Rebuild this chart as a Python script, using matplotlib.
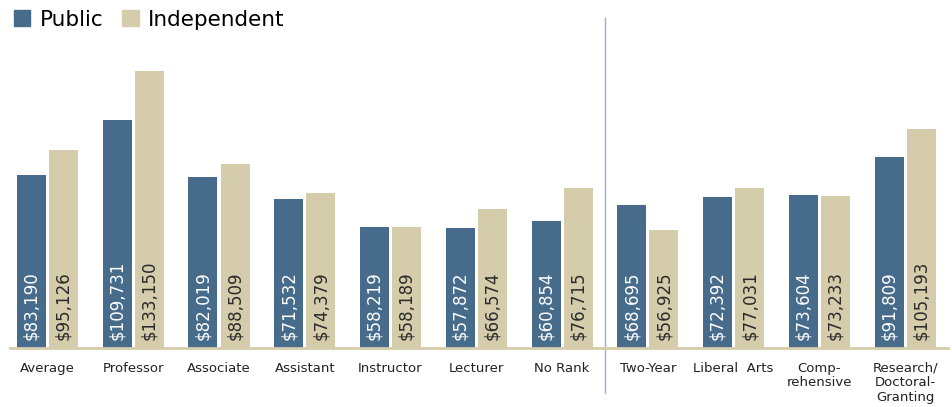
import matplotlib.pyplot as plt
import numpy as np

# Data
categories = ['Average', 'Professor', 'Associate', 'Assistant', 'Instructor', 'Lecturer',
              'No Rank', 'Two-Year', 'Liberal  Arts', 'Comp-\nrehensive',
              'Research/\nDoctoral-\nGranting']
public = [83190, 109731, 82019, 71532, 58219, 57872, 60854, 68695, 72392, 73604, 91809]
independent = [95126, 133150, 88509, 74379, 58189, 66574, 76715, 56925, 77031, 73233, 105193]

c_pub = '#466b8b'
c_ind = '#d5ccab'
font = ['DejaVu Sans']

fig = plt.figure(figsize=(9.53, 4.07), dpi=100)
ax = fig.add_axes([10 / 953, 59 / 407, 938 / 953, 330 / 407])

x = np.arange(len(categories))
w = 0.338
off = 0.187
ax.bar(x - off, public, w, color=c_pub)
ax.bar(x + off, independent, w, color=c_ind)

# values inside bars
for i in range(len(categories)):
    ax.text(x[i] - off, 3800, '${:,}'.format(public[i]), rotation=90, ha='center', va='bottom',
            color='white', fontsize=12, family=font)
    ax.text(x[i] + off, 3800, '${:,}'.format(independent[i]), rotation=90, ha='center', va='bottom',
            color='#2a2a2a', fontsize=12, family=font)

ax.set_xlim(-0.437, 10.5)
ax.set_ylim(0, 158600)
for s in ['top', 'right', 'left']:
    ax.spines[s].set_visible(False)
ax.spines['bottom'].set_color(c_ind)
ax.spines['bottom'].set_linewidth(2)
ax.set_yticks([])
ax.set_xticks(x)
ax.set_xticklabels(categories, family=font, fontsize=9.5, color='#222222', linespacing=1.15)
ax.tick_params(axis='x', length=0, pad=10)

# separator between rank and institution type
ax.axvline(6.5, ymin=-0.136, ymax=1.0, color='#9fb0c2', linewidth=1, clip_on=False)

# legend
handles = [plt.Rectangle((0, 0), 1, 1, color=c_pub), plt.Rectangle((0, 0), 1, 1, color=c_ind)]
fig.legend(handles, ['Public', 'Independent'], loc='upper left', bbox_to_anchor=(-0.006, 1.024),
           frameon=False, ncol=2, prop={'family': font, 'size': 15.5}, handlelength=0.75,
           handleheight=0.75, handletextpad=0.45, columnspacing=0.9)

plt.savefig('out.png')
